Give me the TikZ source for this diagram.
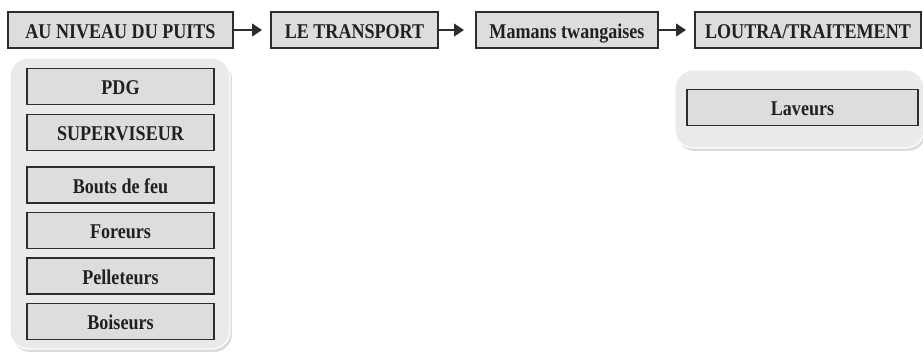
\documentclass[tikz,border=0pt]{standalone}
\usepackage{fontspec}
\setmainfont{Liberation Serif}
\newfontfamily\condserif[FakeStretch=0.86]{Liberation Serif}
\usetikzlibrary{arrows.meta,shadows}
\definecolor{boxfill}{RGB}{220,221,223}
\definecolor{panelfill}{RGB}{234,234,236}
\definecolor{edge}{RGB}{45,45,45}
\definecolor{ink}{RGB}{35,31,32}
\tikzset{
  stagebox/.style={draw=edge, fill=boxfill, line width=1.3pt, inner sep=0pt,
    text height=16.5pt, text depth=0pt,
    font=\condserif\fontsize{21}{22}\selectfont\bfseries, text=ink},
  rolebox/.style={stagebox, minimum width=187pt, minimum height=36pt},
  panel/.style={draw=white, line width=1.2pt, fill=panelfill, rounded corners=18pt,
    drop shadow={shadow xshift=2pt, shadow yshift=-3pt, opacity=0.35, fill=black!40}},
  flow/.style={draw=edge, line width=1.2pt, -{Triangle[length=10pt,width=13pt]}}
}
\begin{document}
\begin{tikzpicture}[x=1pt,y=-1pt]
\useasboundingbox (0,0) rectangle (923,352);
% top stages
\node[stagebox, minimum width=225pt, minimum height=36pt] (s1) at (120.5,30) {AU NIVEAU DU PUITS};
\node[stagebox, minimum width=167pt, minimum height=36pt] (s2) at (354.5,30) {LE TRANSPORT};
\node[stagebox, minimum width=182pt, minimum height=36pt] (s3) at (567,30) {Mamans twangaises};
\node[stagebox, minimum width=226pt, minimum height=36pt] (s4) at (808,30) {LOUTRA/TRAITEMENT};
\coordinate (t1) at (262,30);
\coordinate (t2) at (464,30);
\coordinate (t3) at (686,30);
\draw[flow] (s1.east) -- (t1);
\draw[flow] (s2.east) -- (t2);
\draw[flow] (s3.east) -- (t3);
% panels
\path[panel] (10,58) rectangle (230,349);
\path[panel] (675,70) rectangle (924,148);
% roles
\node[rolebox] (pdg) at (120.5,86.5) {PDG};
\node[rolebox] (sup) at (120.5,132.5) {SUPERVISEUR};
\node[rolebox] (bdf) at (120.5,185) {Bouts de feu};
\node[rolebox] (for) at (120.5,230.5) {Foreurs};
\node[rolebox] (pel) at (120.5,276) {Pelleteurs};
\node[rolebox] (boi) at (120.5,321.5) {Boiseurs};
\node[rolebox, minimum width=231pt] (lav) at (802.5,107.5) {Laveurs};
\end{tikzpicture}
\end{document}
